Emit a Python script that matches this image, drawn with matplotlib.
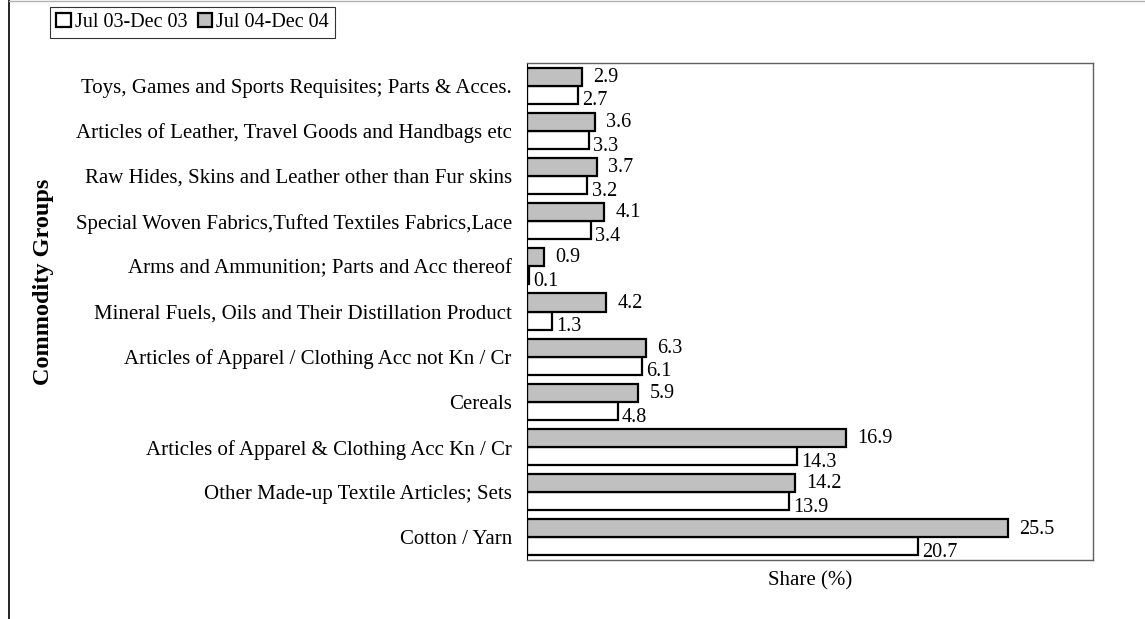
import numpy as np
import matplotlib.pyplot as plt
from matplotlib.lines import Line2D

plt.rcParams['font.family'] = ['Liberation Serif', 'DejaVu Serif']

# categories from bottom to top
groups = ['Cotton / Yarn',
          'Other Made-up Textile Articles; Sets',
          'Articles of Apparel & Clothing Acc Kn / Cr',
          'Cereals',
          'Articles of Apparel / Clothing Acc not Kn / Cr',
          'Mineral Fuels, Oils and Their Distillation Product',
          'Arms and Ammunition; Parts and Acc thereof',
          'Special Woven Fabrics,Tufted Textiles Fabrics,Lace',
          'Raw Hides, Skins and Leather other than Fur skins',
          'Articles of Leather, Travel Goods and Handbags etc',
          'Toys, Games and Sports Requisites; Parts & Acces.']
share_03 = [20.7, 13.9, 14.3, 4.8, 6.1, 1.3, 0.1, 3.4, 3.2, 3.3, 2.7]
share_04 = [25.5, 14.2, 16.9, 5.9, 6.3, 4.2, 0.9, 4.1, 3.7, 3.6, 2.9]
labels = ['Jul 03-Dec 03', 'Jul 04-Dec 04']

fig = plt.figure(figsize=(11.45, 6.19), dpi=100)
ax = fig.add_axes([0.4603, 0.0953, 0.4943, 0.8029])

y = np.arange(len(groups))
h = 0.4
b1 = ax.barh(y - h / 2, share_03, height=h, color='white', edgecolor='black',
             linewidth=1.6, label=labels[0])
b2 = ax.barh(y + h / 2, share_04, height=h, color='#c0c0c0', edgecolor='black',
             linewidth=1.6, label=labels[1])

# value labels
for yi, v in zip(y, share_03):
    ax.annotate(f'{v:.1f}', (v, yi - h / 2), xytext=(3, -4.5), textcoords='offset points',
                va='center', ha='left', fontsize=14.5)
for yi, v in zip(y, share_04):
    ax.annotate(f'{v:.1f}', (v, yi + h / 2), xytext=(8, -0.5), textcoords='offset points',
                va='center', ha='left', fontsize=14.5)

ax.set_xlim(0, 30)
ax.set_ylim(-0.5, len(groups) - 0.5)
ax.set_yticks(y)
ax.set_yticklabels(groups, fontsize=15)
ax.tick_params(axis='y', length=0, pad=11)
ax.set_xticks([])
ax.set_xlabel('Share (%)', fontsize=15, labelpad=8)
ax.set_ylabel('Commodity Groups', fontsize=17.5, fontweight='bold')
ax.yaxis.set_label_coords(-0.835, 0.56)

for s in ['top', 'right', 'bottom']:
    ax.spines[s].set_color('#606060')
    ax.spines[s].set_linewidth(1.0)
ax.spines['left'].set_color('black')

leg = fig.legend(handles=[b1, b2], loc='upper left', bbox_to_anchor=(0.044, 0.989),
                 ncol=2, frameon=True, fancybox=False, edgecolor='black',
                 fontsize=14.5, handlelength=0.7, handleheight=0.7, handletextpad=0.2,
                 columnspacing=0.55, borderpad=0.3, borderaxespad=0)
leg.get_frame().set_linewidth(0.8)

# outer chart border (partly visible)
fig.add_artist(Line2D([0.0075, 0.0075], [0, 1], color='black', linewidth=1.2))
fig.add_artist(Line2D([0.0075, 1], [0.999, 0.999], color='#b0b0b0', linewidth=1.0))

fig.savefig('out.png', dpi=100)
